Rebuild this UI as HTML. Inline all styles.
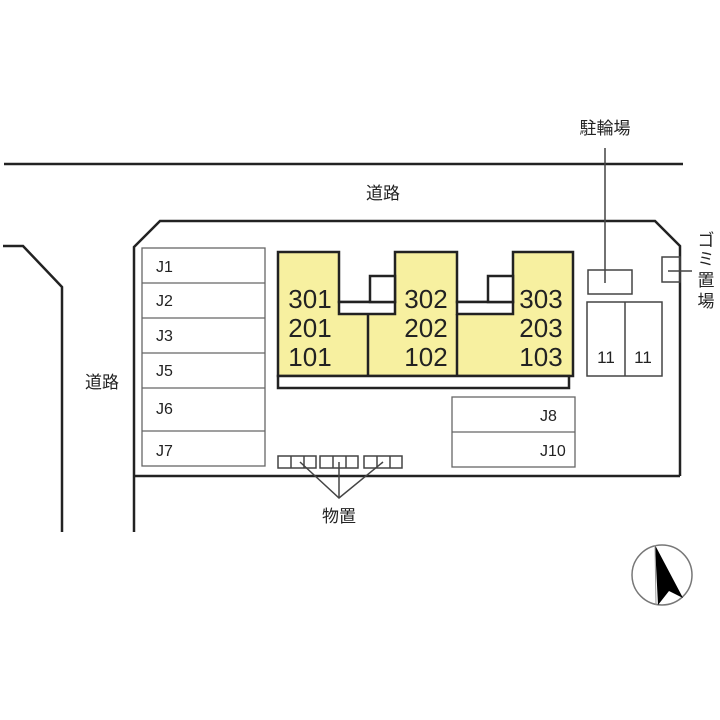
<!DOCTYPE html>
<html><head><meta charset="utf-8"><style>
html,body{margin:0;padding:0;background:#fff}
svg{display:block}
text{font-family:"Liberation Sans","Noto Sans CJK JP",sans-serif;fill:#222}
</style></head><body>
<svg width="720" height="720" viewBox="0 0 720 720" xmlns="http://www.w3.org/2000/svg">
<g fill="none" stroke="#222" stroke-width="2.5">
<line x1="4" y1="164" x2="683" y2="164"/>
<polyline points="3,246 23,246 62,287 62,532"/>
<polyline points="134,532 134,247 160,221 655,221 680,246 680,476"/>
<line x1="134" y1="476" x2="680" y2="476"/>
</g>
<g fill="none" stroke="#666" stroke-width="1.3">
<rect x="142" y="248" width="123" height="218"/>
<line x1="142" y1="283" x2="265" y2="283"/>
<line x1="142" y1="318" x2="265" y2="318"/>
<line x1="142" y1="353" x2="265" y2="353"/>
<line x1="142" y1="388" x2="265" y2="388"/>
<line x1="142" y1="431" x2="265" y2="431"/>
<rect x="452" y="397" width="123" height="70"/>
<line x1="452" y1="432" x2="575" y2="432"/>
</g>
<g font-size="16">
<text x="156" y="272">J1</text><text x="156" y="306">J2</text><text x="156" y="341">J3</text>
<text x="156" y="376">J5</text><text x="156" y="414">J6</text><text x="156" y="456">J7</text>
<text x="540" y="421">J8</text><text x="540" y="456">J10</text>
</g>
<g stroke="#222" stroke-width="2.5">
<path d="M278,252 H339 V302 H395 V252 H457 V302 H513 V252 H573 V376 H278 Z" fill="#f7f0a0"/>
<rect x="339" y="302" width="56" height="12" fill="#fff"/>
<rect x="457" y="302" width="56" height="12" fill="#fff"/>
<rect x="370" y="276" width="25" height="26" fill="#fff"/>
<rect x="488" y="276" width="25" height="26" fill="#fff"/>
<line x1="368" y1="314" x2="368" y2="376"/>
<line x1="457" y1="314" x2="457" y2="376"/>
<rect x="278" y="376" width="291" height="12" fill="#fff"/>
</g>
<g font-size="26" text-anchor="middle">
<text x="310" y="308">301</text><text x="310" y="337">201</text><text x="310" y="366">101</text>
<text x="426" y="308">302</text><text x="426" y="337">202</text><text x="426" y="366">102</text>
<text x="541" y="308">303</text><text x="541" y="337">203</text><text x="541" y="366">103</text>
</g>
<g fill="none" stroke="#444" stroke-width="1.5">
<line x1="605" y1="148" x2="605" y2="283"/>
<rect x="588" y="270" width="44" height="24"/>
<rect x="662" y="257" width="18" height="25"/>
<line x1="668" y1="271" x2="692" y2="271"/>
<rect x="587" y="302" width="75" height="74"/>
<line x1="625" y1="302" x2="625" y2="376"/>
<rect x="278" y="456" width="38" height="12"/><line x1="291" y1="456" x2="291" y2="468"/><line x1="304" y1="456" x2="304" y2="468"/>
<rect x="320" y="456" width="38" height="12"/><line x1="333" y1="456" x2="333" y2="468"/><line x1="346" y1="456" x2="346" y2="468"/>
<rect x="364" y="456" width="38" height="12"/><line x1="377" y1="456" x2="377" y2="468"/><line x1="390" y1="456" x2="390" y2="468"/>
<polyline points="300,462 339,498 383,462"/>
<line x1="339" y1="462" x2="339" y2="498"/>
</g>
<g font-size="17" text-anchor="middle">
<text x="606" y="363">11</text><text x="643" y="363">11</text>
</g>
<g font-size="17" text-anchor="middle">
<text x="383" y="199">道路</text>
<text x="102" y="388">道路</text>
<text x="605" y="134">駐輪場</text>
<text x="339" y="522">物置</text>
<text x="706" y="246">ゴ</text><text x="706" y="265">ミ</text><text x="706" y="286">置</text><text x="706" y="307">場</text>
</g>
<circle cx="662" cy="575" r="30" fill="none" stroke="#777" stroke-width="1.5"/>
<polygon points="655,545 683,598 669,591 658,605" fill="#000"/>
<line x1="655" y1="545" x2="656" y2="605" stroke="#999" stroke-width="1"/>
</svg>
</body></html>
